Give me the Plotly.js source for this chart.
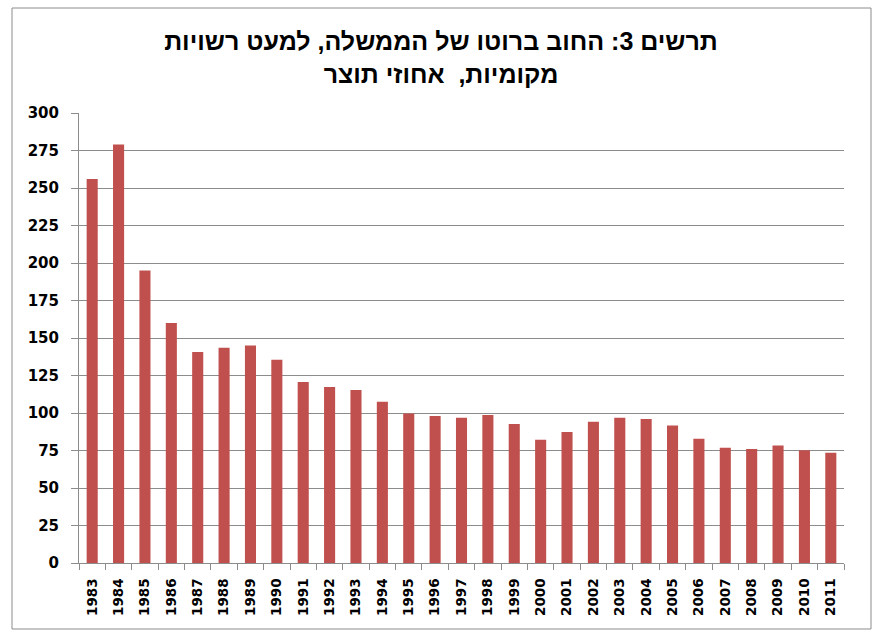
<!DOCTYPE html>
<html>
<head>
<meta charset="utf-8">
<script src="https://cdn.plot.ly/plotly-3.0.1.min.js"></script>
<style>html,body{margin:0;padding:0;background:#fff;}#chart{width:882px;height:636px;}</style>
</head>
<body>
<div id="chart"></div>
<script>
const years = ["1983","1984","1985","1986","1987","1988","1989","1990","1991","1992","1993","1994","1995","1996","1997","1998","1999","2000","2001","2002","2003","2004","2005","2006","2007","2008","2009","2010","2011"];
const debtPct = [256,279,195,160,140.7,143.5,145,135.5,120.7,117.3,115.3,107.5,99.7,98,96.9,98.7,92.7,82.2,87.3,94.2,96.9,96,91.7,82.9,76.9,76,78.4,75.1,73.5];
const yTicks = [0,25,50,75,100,125,150,175,200,225,250,275,300];
const titleText = "תרשים 3: החוב ברוטו של הממשלה, למעט רשויות<br>מקומיות,  אחוזי תוצר";

const L = 79, R = 844, T = 113, B = 563, W = 882, H = 636;
const px = v => (v - L) / (R - L);
const py = v => (B - v) / (B - T);

const trace = {
  type: 'bar', x: years, y: debtPct,
  marker: {color: '#C0504D', line: {width: 0}},
  width: 0.42, hoverinfo: 'x+y'
};

const tickFont = '"DejaVu Sans", Verdana, sans-serif';

const layout = {
  width: W, height: H,
  margin: {l: L, r: W - R, t: T, b: H - B, pad: 0},
  paper_bgcolor: '#fff', plot_bgcolor: '#fff',
  showlegend: false,
  font: {family: 'Arial, "Liberation Sans", sans-serif', color: '#000'},
  title: {
    text: titleText,
    font: {family: 'Arial, "Liberation Sans", sans-serif', size: 25, color: '#000', weight: 'bold'},
    x: 0.5, xref: 'container', xanchor: 'center',
    y: 1 - 50 / H, yref: 'container', yanchor: 'middle'
  },
  xaxis: {
    type: 'category', tickangle: -90,
    tickfont: {family: tickFont, size: 13.5, weight: 'bold', color: '#000'},
    showline: true, linecolor: '#8c8c8c', linewidth: 1,
    ticks: 'outside', tickson: 'boundaries', ticklen: 6, tickcolor: '#8c8c8c',
    ticklabelstandoff: 9,
    showgrid: false, fixedrange: true
  },
  yaxis: {
    range: [0, 300], tickvals: yTicks, ticktext: yTicks.map(String),
    tickfont: {family: tickFont, size: 15, weight: 'bold', color: '#000'},
    showline: true, linecolor: '#8c8c8c', linewidth: 1,
    ticks: 'outside', ticklen: 7, tickcolor: '#8c8c8c',
    ticklabelstandoff: 9,
    showgrid: true, gridcolor: '#8c8c8c', gridwidth: 1,
    zeroline: false, fixedrange: true
  },
  shapes: [{
    type: 'rect', xref: 'paper', yref: 'paper',
    x0: px(12), x1: px(871), y0: py(629), y1: py(8),
    line: {color: '#8c8c8c', width: 1}, layer: 'below'
  }]
};

Plotly.newPlot('chart', [trace], layout, {displayModeBar: false, staticPlot: true});
</script>
</body>
</html>
